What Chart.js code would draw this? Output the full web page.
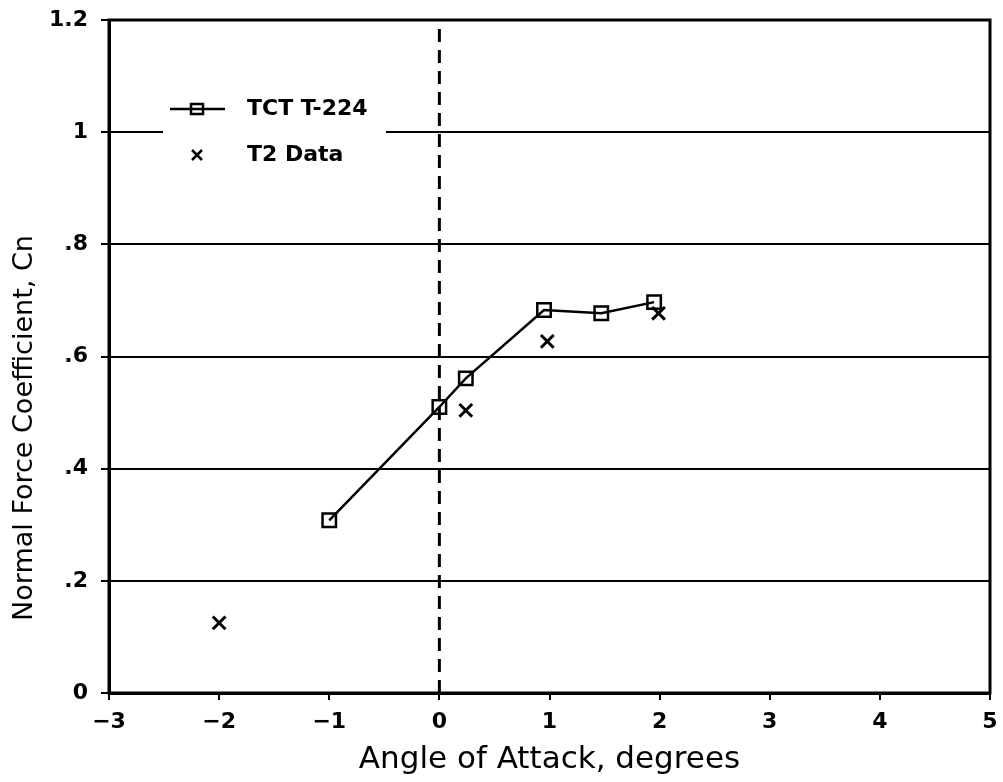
<!DOCTYPE html>
<html>
<head>
<meta charset="utf-8">
<script src="https://cdn.jsdelivr.net/npm/chart.js@4/dist/chart.umd.min.js"></script>
<style>
  html, body { margin: 0; padding: 0; background: #fff; }
  canvas { display: block; }
</style>
</head>
<body>
<canvas id="cnChart" width="1003" height="782"></canvas>
<script>
// TCT T-224 computed normal force
const tctAlpha = [-1.0, 0.0, 0.24, 0.95, 1.47, 1.95];
const tctCn = [0.308, 0.51, 0.561, 0.683, 0.677, 0.697];

// T2 wind tunnel data
const t2Alpha = [-2.0, 0.24, 0.98, 1.99];
const t2Cn = [0.125, 0.504, 0.627, 0.677];

// dashed reference line at zero angle of attack
const zeroLineX = [0, 0];
const zeroLineY = [0, 1.2];

const xTicks = [-3, -2, -1, 0, 1, 2, 3, 4, 5];
const yTicks = [0, 0.2, 0.4, 0.6, 0.8, 1.0, 1.2];

const yTitle = 'Normal Force Coefficient, Cn';

const FONT = "'DejaVu Sans', sans-serif";

function pairs(xs, ys) {
    return xs.map((x, i) => ({ x: x, y: ys[i] }));
}

function fmtY(v) {
    let s = Number(v).toFixed(1);
    if (s.endsWith('.0')) s = s.slice(0, -2);
    if (s.startsWith('0.')) s = s.slice(1);
    return s;
}

// box round the plot, legend inside the plot, y title (sits low, like the original)
const framePlugin = {
    id: 'frame',
    afterDatasetsDraw(chart) {
        const { ctx, chartArea: a } = chart;
        const ds = chart.data.datasets;
        ctx.save();
        // legend panel (breaks the 1.0 gridline)
        const lx = a.left + 54, ly = a.top + 66;
        ctx.fillStyle = '#fff';
        ctx.fillRect(lx, ly, 223, 90);

        ctx.strokeStyle = '#000';
        ctx.fillStyle = '#000';
        ctx.font = 'bold 22px ' + FONT;
        ctx.textBaseline = 'middle';

        // TCT entry
        const y1 = a.top + 89;
        ctx.lineWidth = 2.5;
        ctx.beginPath();
        ctx.moveTo(lx + 7, y1);
        ctx.lineTo(lx + 62, y1);
        ctx.stroke();
        ctx.strokeRect(lx + 28, y1 - 5, 12, 10);
        ctx.fillText(ds[0].label, lx + 84, y1);

        // T2 entry
        const y2 = a.top + 135;
        const cx = lx + 34, r = 5;
        ctx.beginPath();
        ctx.moveTo(cx - r, y2 - r); ctx.lineTo(cx + r, y2 + r);
        ctx.moveTo(cx + r, y2 - r); ctx.lineTo(cx - r, y2 + r);
        ctx.stroke();
        ctx.fillText(ds[1].label, lx + 84, y2);

        ctx.restore();
    },
    afterDraw(chart) {
        const { ctx, chartArea: a } = chart;
        ctx.save();
        ctx.strokeStyle = '#000';
        ctx.lineWidth = 3;
        ctx.strokeRect(a.left, a.top, a.right - a.left, a.bottom - a.top);

        ctx.translate(25, 428);
        ctx.rotate(-Math.PI / 2);
        ctx.fillStyle = '#000';
        ctx.font = '27px ' + FONT;
        ctx.textAlign = 'center';
        ctx.textBaseline = 'middle';
        ctx.fillText(yTitle, 0, 0);
        ctx.restore();
    }
};

new Chart(document.getElementById('cnChart').getContext('2d'), {
    type: 'scatter',
    data: {
        datasets: [
            {
                label: 'TCT T-224',
                data: pairs(tctAlpha, tctCn),
                showLine: true,
                borderColor: '#000',
                borderWidth: 2.5,
                pointStyle: 'rect',
                pointRadius: 9.5,
                pointBorderWidth: 2.5,
                pointBackgroundColor: 'rgba(0,0,0,0)',
                pointBorderColor: '#000'
            },
            {
                label: 'T2 Data',
                data: pairs(t2Alpha, t2Cn),
                showLine: false,
                pointStyle: 'crossRot',
                pointRadius: 9,
                pointBorderWidth: 3,
                pointBorderColor: '#000'
            },
            {
                label: 'zero',
                data: pairs(zeroLineX, zeroLineY),
                showLine: true,
                borderColor: '#000',
                borderWidth: 3,
                borderDash: [13, 8],
                pointRadius: 0
            }
        ]
    },
    options: {
        responsive: false,
        animation: false,
        layout: { padding: { top: 20, right: 13, left: 0, bottom: 0 } },
        plugins: {
            legend: { display: false },
            tooltip: { enabled: false }
        },
        scales: {
            x: {
                type: 'linear',
                min: xTicks[0],
                max: xTicks[xTicks.length - 1],
                afterFit(scale) {
                    scale.height = 89;
                    scale.paddingLeft = 0;
                    scale.paddingRight = 0;
                },
                afterBuildTicks(scale) { scale.ticks = xTicks.map(v => ({ value: v })); },
                ticks: {
                    color: '#000',
                    font: { family: FONT, size: 22, weight: 'bold' },
                    padding: 9,
                    maxRotation: 0,
                    callback: v => (v < 0 ? '\u2212' + Math.abs(v) : String(v))
                },
                grid: {
                    drawOnChartArea: false,
                    drawTicks: true,
                    tickLength: 7,
                    color: '#000',
                    lineWidth: 2
                },
                border: { display: true, color: '#000', width: 3 },
                title: {
                    display: true,
                    text: 'Angle of Attack, degrees',
                    color: '#000',
                    font: { family: FONT, size: 31 },
                    padding: { top: 0, bottom: 3 }
                }
            },
            y: {
                type: 'linear',
                min: yTicks[0],
                max: yTicks[yTicks.length - 1],
                afterFit(scale) {
                    scale.width = 109;
                    scale.paddingTop = 0;
                    scale.paddingBottom = 0;
                },
                afterBuildTicks(scale) { scale.ticks = yTicks.map(v => ({ value: v })); },
                ticks: {
                    color: '#000',
                    font: { family: FONT, size: 22, weight: 'bold' },
                    padding: 13,
                    callback: v => fmtY(v)
                },
                grid: {
                    color: '#000',
                    lineWidth: 2,
                    tickLength: 8
                },
                border: { display: true, color: '#000', width: 3 }
            }
        }
    },
    plugins: [framePlugin]
});
</script>
</body>
</html>
